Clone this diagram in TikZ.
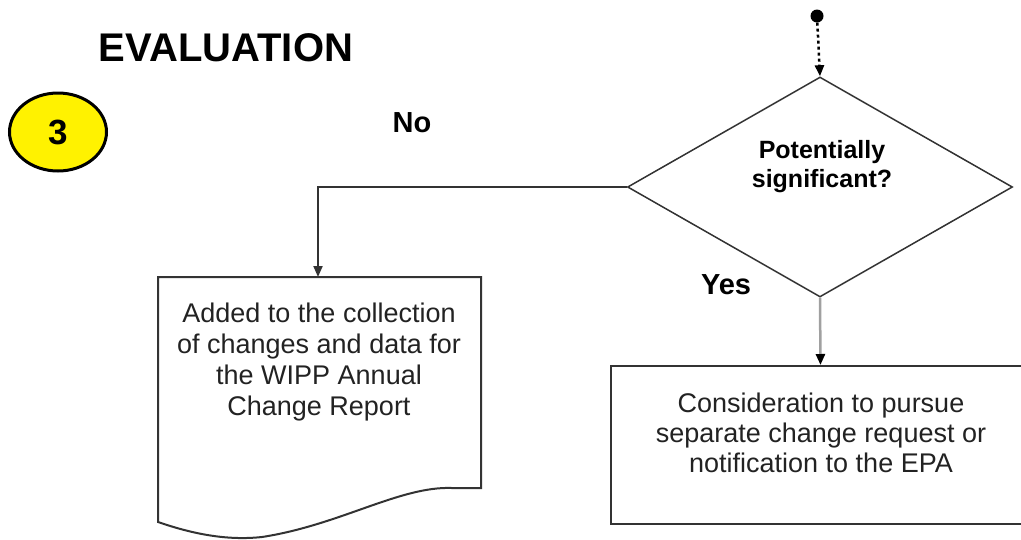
\documentclass[tikz,border=0pt]{standalone}
\usepackage{fontspec}
\setmainfont{Liberation Sans}
\usetikzlibrary{shapes.geometric,arrows.meta}
\definecolor{lineg}{HTML}{333333}
\definecolor{lightg}{HTML}{A0A0A0}
\definecolor{textg}{HTML}{222222}
\tikzset{
  tip/.style={-{Triangle[width=9pt,length=11pt]}},
  boxtext/.style={align=center,text=textg,font=\fontsize{27}{31}\selectfont,inner sep=0pt},
  boldtext/.style={font=\bfseries\fontsize{29}{33}\selectfont,inner sep=0pt},
  conn/.style={draw=lineg,line width=2pt},
}
\begin{document}
\begin{tikzpicture}[x=1pt,y=-1pt]
\useasboundingbox (0,0) rectangle (1021,539);
\clip (0,0) rectangle (1021,539);
% title
\node[font=\bfseries\fontsize{40}{44}\selectfont,inner sep=0pt] (title) at (226,48) {EVALUATION};
% numbered circle
\node[ellipse,draw=black,line width=3pt,fill=yellow,minimum width=97pt,minimum height=78pt,inner sep=0pt,font=\bfseries\fontsize{35}{37}\selectfont] (num) at (58,132) {3};
% start point
\node[circle,fill=black,inner sep=0pt,minimum size=13pt] (start) at (817,16) {};
% decision
\node[diamond,draw=lineg,line width=1.5pt,minimum width=385pt,minimum height=220pt,inner sep=0pt] (dec) at (820,187) {};
\node[align=center,font=\bfseries\fontsize{25}{29}\selectfont,inner sep=0pt] (dectext) at (822,167) {Potentially\\significant?};
% labels
\node[boldtext] (no) at (412,123) {No};
\node[boldtext] (yes) at (726,285) {Yes};
% document shape
\draw[lineg,line width=2pt] (158,277) -- (481,277) -- (481,488) -- (452,488)
  .. controls (400,486) and (340,525) .. (262,537)
  .. controls (225,541) and (190,533) .. (158,522) -- cycle;
\coordinate (doctop) at (318,277);
\node[boxtext] (doctext) at (319,362) {Added to the collection\\of changes and data for\\the WIPP Annual\\Change Report};
% consideration box
\node[draw=lineg,line width=2pt,minimum width=419pt,minimum height=158pt,inner sep=0pt] (cons) at (820.5,445) {};
\node[boxtext,font=\fontsize{27}{30}\selectfont] (constext) at (821,433) {Consideration to pursue\\separate change request or\\notification to the EPA};
% connectors
\draw[black,line width=2.5pt,dash pattern=on 3pt off 3pt,tip] (start) -- (dec.north);
\draw[conn,tip] (dec.west) -- (318,187) -- (doctop);
\draw[draw=lightg,line width=2.5pt,-{Triangle[width=9pt,length=11pt,fill=black,color=black]}] (dec.south) -- (cons.north);
\end{tikzpicture}
\end{document}
